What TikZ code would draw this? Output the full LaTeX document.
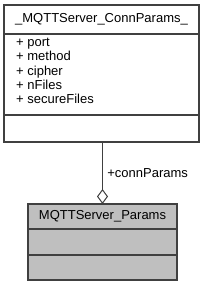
\documentclass[tikz,border=0pt]{standalone}
\usepackage{fontspec}
\setmainfont{Liberation Sans}
\usetikzlibrary{
  arrows.meta,
  positioning
}
\definecolor{umlline}{RGB}{64,64,64}
\definecolor{umlfill}{RGB}{191,191,191}

\begin{document}
\begin{tikzpicture}[
  x=1pt, y=-1pt,
  every node/.style={font=\fontsize{13}{14.3}\selectfont},
  classpart/.style={draw=umlline, line width=1.2pt, fill=white, outer sep=0pt,
                    inner sep=0pt, anchor=north west},
  classgray/.style={classpart, fill=umlfill},
  attrlist/.style={inner sep=0pt, align=left, anchor=north west},
  assoc/.style={draw=umlline, line width=1pt,
                {Diamond[open, length=15pt, width=11pt, fill=white]}-}
]

\useasboundingbox (0,0) rectangle (205,287);

% struct _MQTTServer_ConnParams_
\node[classpart, minimum width=195, minimum height=29] (connTitle) at (4,5)
  {\_MQTTServer\_ConnParams\_};
\node[classpart, minimum width=195, minimum height=81] (connAttr)
  at (connTitle.south west) {};
\node[classpart, minimum width=195, minimum height=27] (connOps)
  at (connAttr.south west) {};
\node[attrlist] (connAttrText) at ([xshift=12pt, yshift=-4pt]connAttr.north west)
  {+ port\\+ method\\+ cipher\\+ nFiles\\+ secureFiles};

% struct MQTTServer_Params
\node[classgray, minimum width=149, minimum height=25] (paramsTitle) at (28,204)
  {MQTTServer\_Params};
\node[classgray, minimum width=149, minimum height=26] (paramsAttr)
  at (paramsTitle.south west) {};
\node[classgray, minimum width=149, minimum height=25] (paramsOps)
  at (paramsAttr.south west) {};

% aggregation
\draw[assoc] (paramsTitle.north) -- (paramsTitle.north |- connOps.south)
  node[midway, right=1pt] (connLabel) {+connParams};

\end{tikzpicture}
\end{document}
